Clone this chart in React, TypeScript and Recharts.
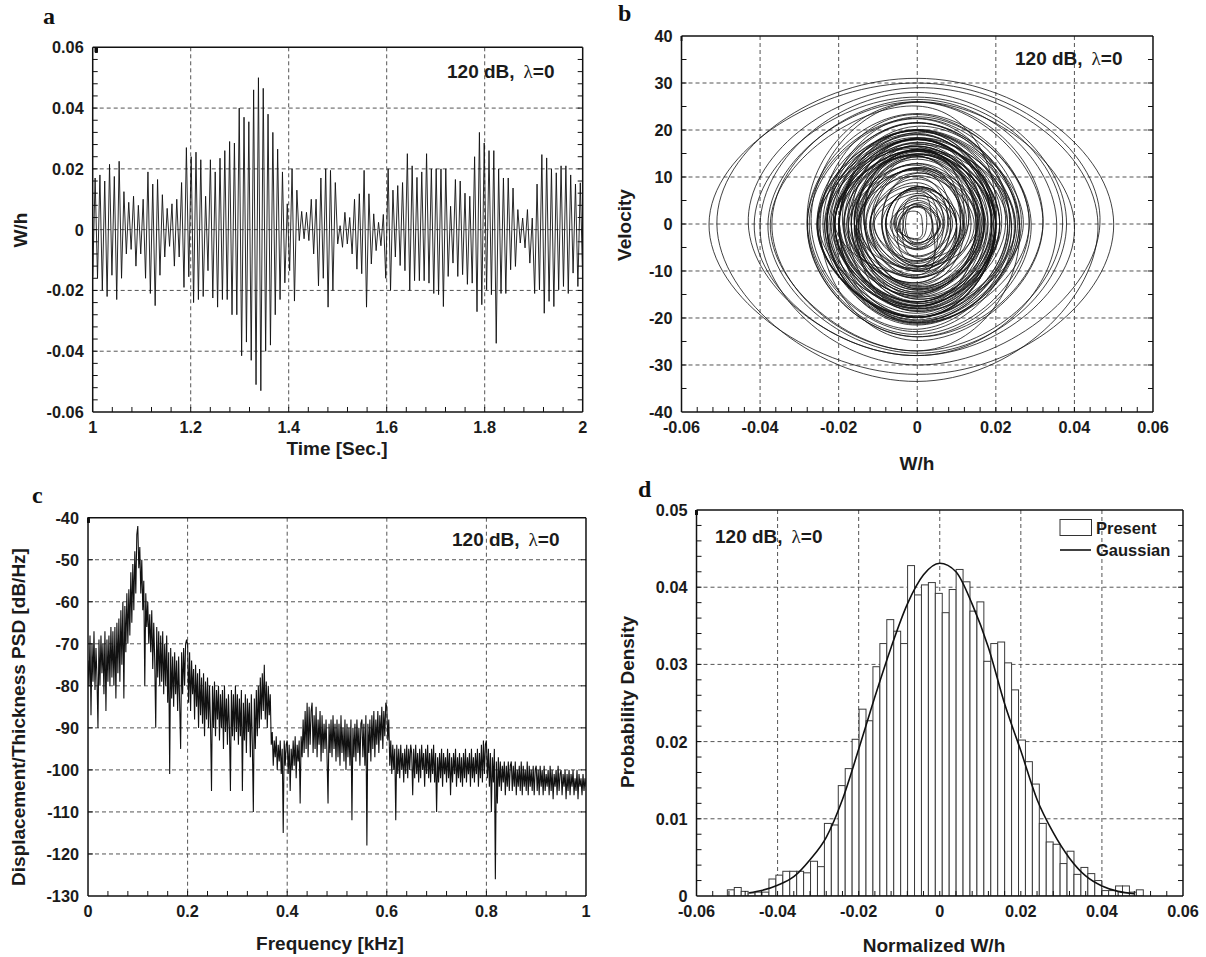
import React from "react";
import { LineChart, Line, ComposedChart, Bar, XAxis, YAxis, CartesianGrid } from "recharts";

const SANS = "'Liberation Sans', Arial, Helvetica, sans-serif";
const SERIF = "'Liberation Serif', 'Times New Roman', serif";

// W/h extremes (alternating peaks/troughs) of the time trace, 1.0 s .. 2.0 s
const wPeaks = [
  // 1.0 - 1.2 s
  -0.0155, 0.017, -0.016, 0.018, -0.02, 0.016, -0.022, 0.0215, -0.015, 0.0175,
  -0.023, 0.0225, -0.016, 0.0125, -0.008, 0.009, -0.0065, 0.011, -0.012, 0.008,
  -0.008, 0.01, -0.016, 0.019, -0.021, 0.015, -0.025, 0.0165, -0.015, 0.0115,
  -0.009, 0.007, -0.0055, 0.0085, -0.012, 0.01, -0.009, 0.0155, -0.019,
  // 1.2 - 1.4 s
  0.027, -0.0155, 0.024, -0.024, 0.0255, -0.023, 0.023, -0.022, 0.011, -0.0135,
  0.023, -0.0225, 0.019, -0.0255, 0.0235, -0.023, 0.026, -0.023, 0.029, -0.028,
  0.0285, -0.028, 0.04, -0.0415, 0.037, -0.037, 0.0355, -0.043, 0.046, -0.051,
  0.05, -0.053, 0.0465, -0.04, 0.038, -0.038, 0.032, -0.028, 0.0265, -0.023, 0.019,
  // 1.4 - 1.6 s
  -0.0175, 0.0085, -0.0135, 0.02, -0.0235, 0.013, -0.0036, 0.006, -0.003, 0.0057,
  -0.0036, 0.01, -0.008, 0.01, -0.0185, 0.017, -0.016, 0.02, -0.0255, 0.0195,
  -0.02, 0.0155, -0.0047, 0.0013, -0.0058, 0.0057, -0.0047, 0.004, -0.008, 0.01,
  -0.013, 0.0118, -0.0145, 0.0195, -0.0255, 0.0118, -0.0113, 0.0052, -0.0069, 0.0024,
  -0.0053, 0.005, -0.016,
  // 1.6 - 2.0 s
  0.02, -0.02, 0.013, -0.009, 0.0145, -0.0118, 0.0155, -0.0135, 0.025, -0.02,
  0.021, -0.0168, 0.0172, -0.0168, 0.019, -0.0168, 0.025, -0.0176, 0.02, -0.021,
  0.02, -0.0214, 0.02, -0.0253, 0.02, -0.0154, 0.0077, -0.011, 0.0165, -0.0154,
  0.016, -0.0148, 0.012, -0.018, 0.011, -0.0176, 0.024, -0.027, 0.032, -0.0247,
  0.0285, -0.0198, 0.026, -0.0214, 0.026, -0.0374, 0.02, -0.021, 0.017, -0.021,
  0.017, -0.0132, 0.0137, -0.0121, 0.0066, -0.0044, 0.0038, -0.006, 0.0066, -0.011,
  0.0038, -0.021, 0.015, -0.0198, 0.0247, -0.0275, 0.0236, -0.0236, 0.02, -0.0253,
  0.0187, -0.0198, 0.021, -0.0187, 0.021, -0.021, 0.018, -0.0143, 0.015, -0.0187,
  0.0154, -0.016,
];

// velocity at each zero crossing between consecutive extremes (phase plane)
const velPeaks = [
  14.3, -14.5, 14.9, -16.6, 15.8, -16.6, 19, -16, 14.3, -17.8,
  19.9, -16.9, 12.5, -9, 7.5, -6.8, 7.6, -10, 8.8, -7,
  7.9, -11.4, 15.4, -17.5, 15.8, -17.5, 18.1, -13.8, 11.6, -9,
  7, -5.5, 6.1, -9, 9.6, -8.4, 10.8, -15.1, 20.1,
  -18.6, 17.3, -21, 21.6, -21.3, 20.1, -19.8, 14.5, -10.8, 16,
  -19.9, 18.1, -19.5, 21.5, -20.4, 21.5, -21.5, 22.8, -24, 23.5,
  -23.5, 26, -28, 27, -27, 26.5, -28, 29, -33.5, 31,
  -32, 30, -30, 28, -27.5, 26, -24, 22.5, -21, 18.4, -16,
  11.4, -9.6, 14.6, -19, 16, -7.3, 4.3, -4, 3.8, -4.1,
  6, -7.9, 7.9, -12.5, 15.5, -14.5, 15.8, -19.9, 19.8, -17.3,
  15.5, -8.9, 2.6, -3.1, 5, -4.5, 3.8, -5.3, 7.9, -10,
  10.9, -11.5, 14.9, -19.8, 16.4, -10.1, 7.3, -5.3, 4.1, -3.4,
  4.5, -9.3, 15.8,
  -17.5, 14.5, -9.6, 10.3, -11.5, 12, -12.8, 16.9, -19.8, 18,
  -16.5, 14.9, -14.9, 15.6, -15.6, 18.3, -18.6, 16.5, -18, 18,
  -18.1, 18.1, -19.9, 19.9, -15.5, 10.1, -8.1, 12, -14, 13.8,
  -13.5, 11.8, -13.1, 12.8, -12.5, 18.3, -22.4, 25.9, -24.8, 23.3,
  -21.1, 20, -20.8, 20.8, -27, 25.1, -18, 16.6, -16.6, 16.6,
  -13.3, 11.8, -11.3, 8.1, -4.9, 3.6, -4.3, 5.5, -7.8, 6.5,
  -10.9, 15.8, -15.3, 19.5, -22.9, 22.4, -20.6, 19.1, -19.9, 19.3,
  -16.9, 17.9, -17.4, 17.4, -18.4, 17.1, -14.1, 12.9, -14.8, 14.9, -13.8,
];

// PSD in dB/Hz, one value every 0.002 kHz from 0 to 1 kHz (25 per row = 0.05 kHz)
const psdDb = [
  -74, -80, -68, -87, -70, -79, -67, -81, -71, -78, -90, -69, -80, -68, -77, -70, -82, -67, -86, -69, -79, -68, -80, -66, -78,
  -67, -80, -66, -83, -65, -77, -64, -79, -62, -75, -60, -83, -61, -72, -58, -70, -57, -68, -53, -65, -51, -62, -48, -58, -44,
  -42, -52, -47, -58, -50, -62, -55, -80, -58, -66, -60, -70, -63, -72, -62, -76, -65, -74, -90, -66, -78, -67, -80, -68, -79,
  -67, -82, -70, -80, -68, -84, -72, -101, -71, -83, -73, -85, -72, -82, -74, -86, -73, -84, -95, -72, -82, -71, -80, -70, -69,
  -70, -84, -72, -86, -74, -82, -76, -88, -75, -85, -77, -90, -76, -87, -78, -89, -77, -92, -79, -88, -78, -90, -80, -89, -105,
  -80, -90, -79, -92, -81, -88, -80, -93, -82, -90, -81, -95, -80, -91, -83, -94, -82, -90, -105, -81, -92, -82, -93, -80, -91,
  -82, -94, -83, -92, -81, -105, -84, -93, -82, -96, -83, -91, -84, -97, -82, -94, -110, -83, -95, -81, -92, -80, -90, -78, -88,
  -77, -86, -75, -88, -79, -90, -80, -87, -82, -94, -91, -99, -93, -97, -92, -100, -94, -98, -93, -101, -95, -115, -93, -99, -94,
  -93, -101, -94, -105, -95, -100, -93, -99, -92, -102, -94, -98, -93, -108, -92, -97, -88, -96, -86, -95, -84, -97, -85, -94, -86,
  -84, -96, -87, -95, -85, -97, -88, -94, -86, -98, -87, -96, -89, -95, -88, -97, -108, -89, -96, -88, -97, -87, -95, -89, -98,
  -88, -97, -89, -99, -87, -96, -90, -98, -88, -100, -89, -97, -90, -99, -88, -112, -90, -97, -89, -98, -88, -96, -90, -99, -89,
  -88, -97, -89, -99, -87, -118, -89, -96, -88, -98, -87, -95, -86, -97, -88, -94, -86, -96, -87, -93, -85, -95, -86, -92, -84,
  -85, -93, -88, -99, -93, -101, -94, -100, -95, -112, -94, -101, -95, -102, -94, -100, -96, -103, -95, -101, -94, -102, -95, -100, -94,
  -96, -106, -95, -102, -94, -101, -96, -103, -95, -102, -94, -100, -96, -104, -95, -101, -94, -102, -96, -103, -95, -101, -94, -103, -96,
  -110, -97, -103, -96, -102, -95, -104, -96, -101, -97, -103, -95, -102, -96, -106, -97, -103, -96, -101, -95, -104, -97, -102, -96, -103,
  -97, -104, -96, -102, -95, -103, -97, -101, -96, -104, -95, -102, -97, -103, -96, -101, -95, -104, -96, -102, -94, -103, -93, -101, -94,
  -93, -102, -95, -104, -96, -110, -97, -103, -95, -126, -98, -108, -97, -104, -98, -105, -99, -103, -98, -106, -99, -104, -98, -105, -99,
  -98, -105, -99, -104, -98, -106, -100, -104, -99, -105, -98, -106, -99, -104, -100, -105, -98, -106, -99, -104, -100, -105, -99, -106, -100,
  -99, -105, -100, -106, -99, -104, -100, -106, -99, -105, -101, -104, -100, -106, -99, -105, -100, -107, -101, -104, -100, -106, -99, -105, -101,
  -100, -106, -101, -104, -100, -107, -101, -105, -100, -106, -101, -104, -100, -106, -102, -105, -100, -107, -101, -104, -102, -106, -101, -105, -102,
  -104,
];

// histogram of normalized W/h: 60 bins starting at -0.0524
const binLeft = -0.0524;
const binWidth = 0.00171;
const histDensity = [
  0.0008, 0.0011, 0.0006, 0.0004, 0.0005, 0.0005, 0.0022, 0.0027, 0.0032, 0.0032,
  0.0032, 0.003, 0.0045, 0.0038, 0.0094, 0.0092, 0.0143, 0.0165, 0.0203, 0.0242,
  0.0227, 0.0297, 0.0327, 0.0358, 0.0343, 0.0327, 0.0428, 0.039, 0.0403, 0.0406,
  0.0392, 0.0367, 0.0397, 0.0423, 0.0407, 0.0369, 0.0381, 0.0304, 0.0327, 0.0329,
  0.0302, 0.0267, 0.0202, 0.0174, 0.0145, 0.0094, 0.007, 0.0067, 0.0042, 0.0058,
  0.0028, 0.0037, 0.0029, 0.002, 0.0007, 0.0007, 0.0013, 0.0013, 0.0005, 0.0008,
];

const gaussX = [
  -0.047, -0.044, -0.04, -0.036, -0.032, -0.028, -0.024, -0.02, -0.016, -0.012, -0.008, -0.004, 0,
  0.004, 0.008, 0.012, 0.016, 0.02, 0.024, 0.028, 0.032, 0.036, 0.04, 0.044, 0.048,
];
const gaussY = [
  0.0004, 0.0007, 0.0014, 0.0025, 0.0047, 0.0076, 0.0125, 0.019, 0.0258, 0.0322, 0.0378, 0.0416, 0.0431,
  0.042, 0.0378, 0.0322, 0.0249, 0.0188, 0.0125, 0.0082, 0.0049, 0.0026, 0.0013, 0.0006, 0.0003,
];

// tick values
const aXMajor = [1, 1.2, 1.4, 1.6, 1.8, 2];
const wMajor = [-0.06, -0.04, -0.02, 0, 0.02, 0.04, 0.06];
const velMajor = [-40, -30, -20, -10, 0, 10, 20, 30, 40];
const freqMajor = [0, 0.2, 0.4, 0.6, 0.8, 1];
const psdMajor = [-130, -120, -110, -100, -90, -80, -70, -60, -50, -40];
const pdMajor = [0, 0.01, 0.02, 0.03, 0.04, 0.05];

function steps(from: number, to: number, step: number): number[] {
  const out: number[] = [];
  const n = Math.round((to - from) / step);
  for (let i = 0; i <= n; i++) out.push(+(from + i * step).toFixed(6));
  return out;
}
const inner = (arr: number[]) => arr.slice(1, -1);

const tsData = wPeaks.map((w, i) => ({ t: 1 + i / (wPeaks.length - 1), w }));
const phaseData = wPeaks.flatMap((w, i) =>
  i < velPeaks.length ? [{ w, v: 0 }, { w: 0, v: velPeaks[i] }] : [{ w, v: 0 }]
);
const psdData = psdDb.map((p, i) => ({ f: i * 0.002, p }));
const histData = histDensity.map((d, i) => ({ x: binLeft + (i + 0.5) * binWidth, d }));
const gaussData = gaussX.map((x, i) => ({ x, g: gaussY[i] }));

type Side = "bottom" | "left" | "top" | "right";
const LABEL = { fontFamily: SANS, fontWeight: 700, fontSize: 16.3, fill: "#1b1b1b" };

function AxisTick(p: any) {
  const { x, y, payload, side, majors, index, visibleTicksCount } = p;
  const v = Number(payload?.value);
  const major = (majors as number[]).some((m) => Math.abs(m - v) < 1e-9);
  const atEnd = index === 0 || index === visibleTicksCount - 1;
  const L = 5;
  const seg =
    side === "bottom" ? [x, y, x, y - L] : side === "top" ? [x, y, x, y + L] : side === "left" ? [x, y, x + L, y] : [x, y, x - L, y];
  return (
    <g>
      {!atEnd && <line x1={seg[0]} y1={seg[1]} x2={seg[2]} y2={seg[3]} stroke="#111" strokeWidth={1} />}
      {major && side === "bottom" && (
        <text x={x} y={y + 21} textAnchor="middle" style={LABEL}>{String(v)}</text>
      )}
      {major && side === "left" && (
        <text x={x - 9} y={y + 6} textAnchor="end" style={LABEL}>{String(v)}</text>
      )}
    </g>
  );
}
const tickOf = (side: Side, majors: number[] = []) => (p: any) => <AxisTick {...p} side={side} majors={majors} />;

// axes take a hair of room so recharts still draws them
const AX = 0.01;

function frameAxes(o: {
  xKey: string; xDomain: [number, number]; yDomain: [number, number];
  xTicks: number[]; yTicks: number[]; xMajor: number[]; yMajor: number[];
}) {
  const common = {
    type: "number" as const, allowDataOverflow: true, interval: 0 as const,
    tickSize: 0, tickMargin: 0, tickLine: false,
    axisLine: { stroke: "#111", strokeWidth: 1.5 },
  };
  return [
    <CartesianGrid key="g" stroke="#555" strokeDasharray="4 3"
      horizontalValues={inner(o.yMajor)} verticalValues={inner(o.xMajor)} />,
    <XAxis key="xb" {...common} dataKey={o.xKey} orientation="bottom" height={AX}
      domain={o.xDomain} ticks={o.xTicks} tick={tickOf("bottom", o.xMajor)} />,
    <XAxis key="xt" {...common} xAxisId="top" orientation="top" height={AX}
      domain={o.xDomain} ticks={o.xTicks} tick={tickOf("top")} />,
    <YAxis key="yl" {...common} orientation="left" width={AX}
      domain={o.yDomain} ticks={o.yTicks} tick={tickOf("left", o.yMajor)} />,
    <YAxis key="yr" {...common} yAxisId="right" orientation="right" width={AX}
      domain={o.yDomain} ticks={o.yTicks} tick={tickOf("right")} />,
  ];
}

const A = { left: 0, top: 0, w: 600, h: 470, m: { top: 47.3, right: 17.3, bottom: 58, left: 92.7 } };
const B = { left: 600, top: 0, w: 606, h: 470, m: { top: 36, right: 53, bottom: 58, left: 81.5 } };
const C = { left: 0, top: 470, w: 600, h: 487, m: { top: 47.7, right: 14, bottom: 61, left: 88 } };
const D = { left: 600, top: 470, w: 606, h: 487, m: { top: 40, right: 23, bottom: 61, left: 96.5 } };

const binPx = ((D.w - D.m.left - D.m.right) * binWidth) / 0.12;

function BinRect(p: any) {
  const cx = p.x + p.width / 2;
  return <rect x={cx - binPx / 2} y={p.y} width={binPx} height={p.height} fill="#fff" stroke="#3a3a3a" strokeWidth={1} />;
}

const box = (g: { left: number; top: number; w: number; h: number }): React.CSSProperties => ({
  position: "absolute", left: g.left, top: g.top, width: g.w, height: g.h,
});

const TITLE = { fontFamily: SANS, fontWeight: 700, fontSize: 19, fill: "#1b1b1b" };
const NOTE = { fontFamily: SANS, fontWeight: 700, fontSize: 19, fill: "#1b1b1b" };
const LETTER = { fontFamily: SERIF, fontWeight: 700, fontSize: 24, fill: "#111" };

function Note({ x, y }: { x: number; y: number }) {
  return (
    <text x={x} y={y} style={NOTE}>
      120 dB,
      <tspan dx={9} style={{ fontFamily: SERIF, fontWeight: 400 }}>λ</tspan>
      <tspan>=0</tspan>
    </text>
  );
}

function VTitle({ x, y, children }: { x: number; y: number; children: string }) {
  return (
    <text transform={`translate(${x},${y}) rotate(-90)`} textAnchor="middle" dy="0.35em" style={TITLE}>
      {children}
    </text>
  );
}

export default function App() {
  return (
    <div style={{ position: "absolute", left: 0, top: 0, width: 1206, height: 957, background: "#fff", overflow: "hidden" }}>
      <div style={box(A)}>
        <LineChart width={A.w} height={A.h} data={tsData} margin={A.m}>
          {frameAxes({
            xKey: "t", xDomain: [1, 2], yDomain: [-0.06, 0.06],
            xTicks: steps(1, 2, 0.04), yTicks: steps(-0.06, 0.06, 0.004), xMajor: aXMajor, yMajor: wMajor,
          })}
          <Line dataKey="w" type="linear" stroke="#111" strokeWidth={0.9} dot={false} activeDot={false} isAnimationActive={false} />
        </LineChart>
      </div>

      <div style={box(B)}>
        <LineChart width={B.w} height={B.h} data={phaseData} margin={B.m}>
          {frameAxes({
            xKey: "w", xDomain: [-0.06, 0.06], yDomain: [-40, 40],
            xTicks: steps(-0.06, 0.06, 0.004), yTicks: steps(-40, 40, 5), xMajor: wMajor, yMajor: velMajor,
          })}
          <Line dataKey="v" type="natural" stroke="#111" strokeWidth={0.8} dot={false} activeDot={false} isAnimationActive={false} />
        </LineChart>
      </div>

      <div style={box(C)}>
        <LineChart width={C.w} height={C.h} data={psdData} margin={C.m}>
          {frameAxes({
            xKey: "f", xDomain: [0, 1], yDomain: [-130, -40],
            xTicks: steps(0, 1, 0.04), yTicks: psdMajor, xMajor: freqMajor, yMajor: psdMajor,
          })}
          <Line dataKey="p" type="linear" stroke="#111" strokeWidth={1.1} dot={false} activeDot={false} isAnimationActive={false} />
        </LineChart>
      </div>

      <div style={box(D)}>
        <ComposedChart width={D.w} height={D.h} data={histData} margin={D.m} barCategoryGap={0} barGap={0}>
          {frameAxes({
            xKey: "x", xDomain: [-0.06, 0.06], yDomain: [0, 0.05],
            xTicks: steps(-0.06, 0.06, 0.004), yTicks: steps(0, 0.05, 0.002), xMajor: wMajor, yMajor: pdMajor,
          })}
          <Bar dataKey="d" shape={BinRect} isAnimationActive={false} />
        </ComposedChart>
      </div>
      <div style={{ ...box(D), pointerEvents: "none" }}>
        <LineChart width={D.w} height={D.h} data={gaussData} margin={D.m}>
          <XAxis hide type="number" dataKey="x" domain={[-0.06, 0.06]} allowDataOverflow />
          <YAxis hide type="number" domain={[0, 0.05]} allowDataOverflow />
          <Line dataKey="g" type="monotone" stroke="#111" strokeWidth={1.6} dot={false} activeDot={false} isAnimationActive={false} />
        </LineChart>
      </div>

      <svg width={1206} height={957} style={{ position: "absolute", left: 0, top: 0, pointerEvents: "none" }}>
        <text x={43} y={24} style={LETTER}>a</text>
        <text x={618} y={21} style={LETTER}>b</text>
        <text x={32} y={503} style={LETTER}>c</text>
        <text x={638} y={497} style={LETTER}>d</text>

        <Note x={447} y={78} />
        <Note x={1015} y={65} />
        <Note x={452} y={546} />
        <Note x={715} y={543} />

        <text x={337} y={455} textAnchor="middle" style={TITLE}>Time [Sec.]</text>
        <VTitle x={20} y={230}>W/h</VTitle>
        <VTitle x={624} y={225}>Velocity</VTitle>
        <text x={917} y={470} textAnchor="middle" style={TITLE}>W/h</text>
        <VTitle x={18} y={717}>Displacement/Thickness PSD [dB/Hz]</VTitle>
        <text x={330} y={950} textAnchor="middle" style={TITLE}>Frequency [kHz]</text>
        <VTitle x={627} y={702}>Probability Density</VTitle>
        <text x={934} y={952} textAnchor="middle" style={TITLE}>Normalized W/h</text>

        <rect x={1060} y={519.5} width={31.5} height={16} fill="#fff" stroke="#333" strokeWidth={1} />
        <text x={1096} y={533.5} style={{ ...LABEL, fontSize: 16.5 }}>Present</text>
        <line x1={1060} y1={550} x2={1091} y2={550} stroke="#111" strokeWidth={1.6} />
        <text x={1096} y={556} style={{ ...LABEL, fontSize: 16.5 }}>Gaussian</text>
      </svg>
    </div>
  );
}
